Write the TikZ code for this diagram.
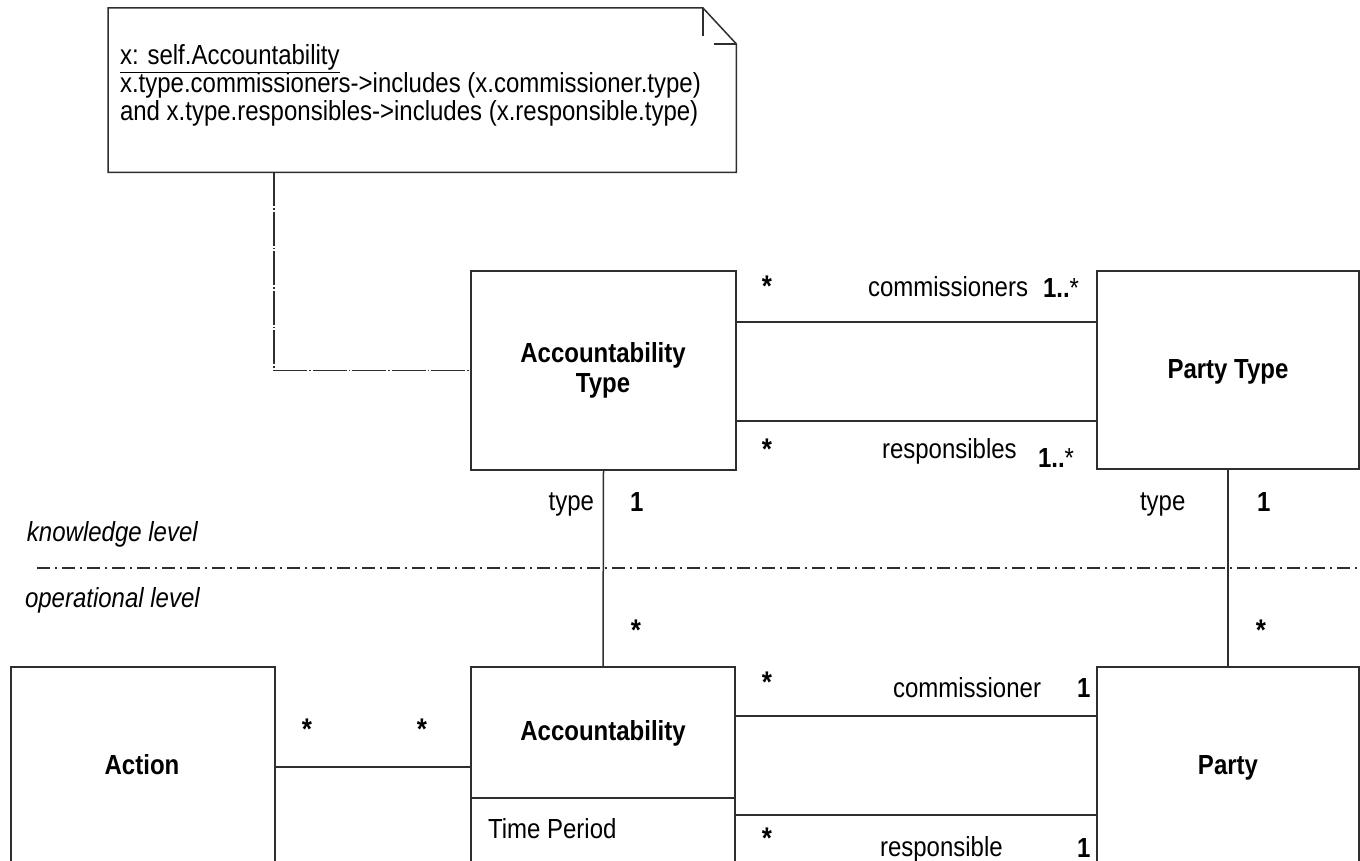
\documentclass[tikz,border=0pt]{standalone}
\usepackage{fontspec}
\setmainfont{Liberation Sans}
\usepackage{graphicx}
\newcommand{\st}[1]{\scalebox{1}[1.15]{#1}}
\begin{document}
\begin{tikzpicture}[x=1pt,y=-1pt,
  line/.style={line width=1.5pt, draw=black!82},
  umlbox/.style={line, draw, rectangle, anchor=north west, inner sep=0pt, outer sep=0pt},
  lbl/.style={inner sep=0pt, outer sep=0pt, anchor=base west, font=\fontsize{24}{28}\selectfont},
  clbl/.style={lbl, anchor=base},
  rlbl/.style={lbl, anchor=base east},
  blbl/.style={clbl, font=\bfseries\fontsize{24}{28}\selectfont},
  star/.style={clbl, font=\bfseries\fontsize{26}{28}\selectfont},
  dashdot/.style={line, dash pattern=on 34pt off 2pt on 1.5pt off 2pt},
  leveldiv/.style={line width=1.3pt, draw=black!82, dash pattern=on 13pt off 5pt on 2pt off 5pt}
]
\useasboundingbox (0,0) rectangle (1360,861);
\clip (0,0) rectangle (1360,861);

% note
\node[anchor=north west, inner sep=0pt, minimum width=628pt, minimum height=164pt] (note) at (108,8) {};
\draw[line, line join=miter] (note.north west) -- ++(595,0) -- (note.north east |- 0,44) -- (note.south east) -- (note.south west) -- cycle;
\draw[line] ([xshift=595pt]note.north west) -- ++(0,28);
\draw[line] ([xshift=-22pt]note.north east |- 0,44) -- (note.north east |- 0,44);
\node[lbl] (n1) at (120,65) {\st{\underline{x: self.Accountability}}};
\node[lbl] (n2) at (120,93) {\st{x.type.commissioners->includes (x.commissioner.type)}};
\node[lbl] (n3) at (120,121) {\st{and x.type.responsibles->includes (x.responsible.type)}};

% classes
\node[umlbox, minimum width=265pt, minimum height=199pt] (at) at (471,271) {};
\node[umlbox, minimum width=262pt, minimum height=198pt] (pt) at (1097,271) {};
\node[umlbox, minimum width=264pt, minimum height=240pt] (action) at (11,667) {};
\node[umlbox, minimum width=264pt, minimum height=240pt] (acc) at (471,667) {};
\node[umlbox, minimum width=262pt, minimum height=240pt] (party) at (1097,667) {};
\draw[line] ([yshift=-131pt]acc.north west) -- ([yshift=-131pt]acc.north east);

\node[blbl] (atn1) at (603,362) {\st{Accountability}};
\node[blbl] (atn2) at (603,392) {\st{Type}};
\node[blbl] (ptn) at (1228,378) {\st{Party Type}};
\node[blbl] (actn) at (142,774) {\st{Action}};
\node[blbl] (accn) at (603,740) {\st{Accountability}};
\node[lbl] (tp) at (488,838) {\st{Time Period}};
\node[blbl] (partyn) at (1228,774) {\st{Party}};

% note link
\draw[dashdot] ([xshift=166pt]note.south west) |- (at.west);

% associations
\draw[line] ([yshift=-51pt]at.north east) -- ([yshift=-51pt]pt.north west);
\draw[line] ([yshift=-150pt]at.north east) -- ([yshift=-150pt]pt.north west);
\draw[line] (at.south) -- (acc.north);
\draw[line] (pt.south) -- (party.north);
\draw[line] ([yshift=-100pt]action.north east) -- ([yshift=-100pt]acc.north west);
\draw[line] ([yshift=-49pt]acc.north east) -- ([yshift=-49pt]party.north west);
\draw[line] ([yshift=-148pt]acc.north east) -- ([yshift=-148pt]party.north west);

% level divider
\coordinate (divl) at (37,568);
\coordinate (divr) at (1360,568);
\draw[leveldiv] (divl) -- (divr);
\node[lbl, font=\itshape\fontsize{24}{28}\selectfont] (kl) at (27,541) {\st{knowledge level}};
\node[lbl, font=\itshape\fontsize{24}{28}\selectfont] (ol) at (25,607) {\st{operational level}};

% multiplicities and roles
\node[star] (s1) at (767,296) {\st{*}};
\node[lbl] (r1) at (868,296) {\st{commissioners}};
\node[lbl] (m1) at (1043,297) {\st{\textbf{1..}*}};
\node[star] (s2) at (767,459) {\st{*}};
\node[lbl] (r2) at (882,458) {\st{responsibles}};
\node[lbl] (m2) at (1038,467) {\st{\textbf{1..}*}};

\node[rlbl] (t1) at (594,510) {\st{type}};
\node[lbl, font=\bfseries\fontsize{24}{28}\selectfont] (o1) at (630,511) {\st{1}};
\node[star] (s3) at (636,640) {\st{*}};
\node[lbl] (t2) at (1140,510) {\st{type}};
\node[lbl, font=\bfseries\fontsize{24}{28}\selectfont] (o2) at (1257,511) {\st{1}};
\node[star] (s4) at (1261,640) {\st{*}};

\node[star] (s5) at (307,739) {\st{*}};
\node[star] (s6) at (422,739) {\st{*}};

\node[star] (s7) at (767,692) {\st{*}};
\node[lbl] (r3) at (893,697) {\st{commissioner}};
\node[lbl, font=\bfseries\fontsize{24}{28}\selectfont] (o3) at (1077,697) {\st{1}};
\node[star] (s8) at (767,848) {\st{*}};
\node[lbl] (r4) at (880,856) {\st{responsible}};
\node[lbl, font=\bfseries\fontsize{24}{28}\selectfont] (o4) at (1077,857) {\st{1}};
\end{tikzpicture}
\end{document}
